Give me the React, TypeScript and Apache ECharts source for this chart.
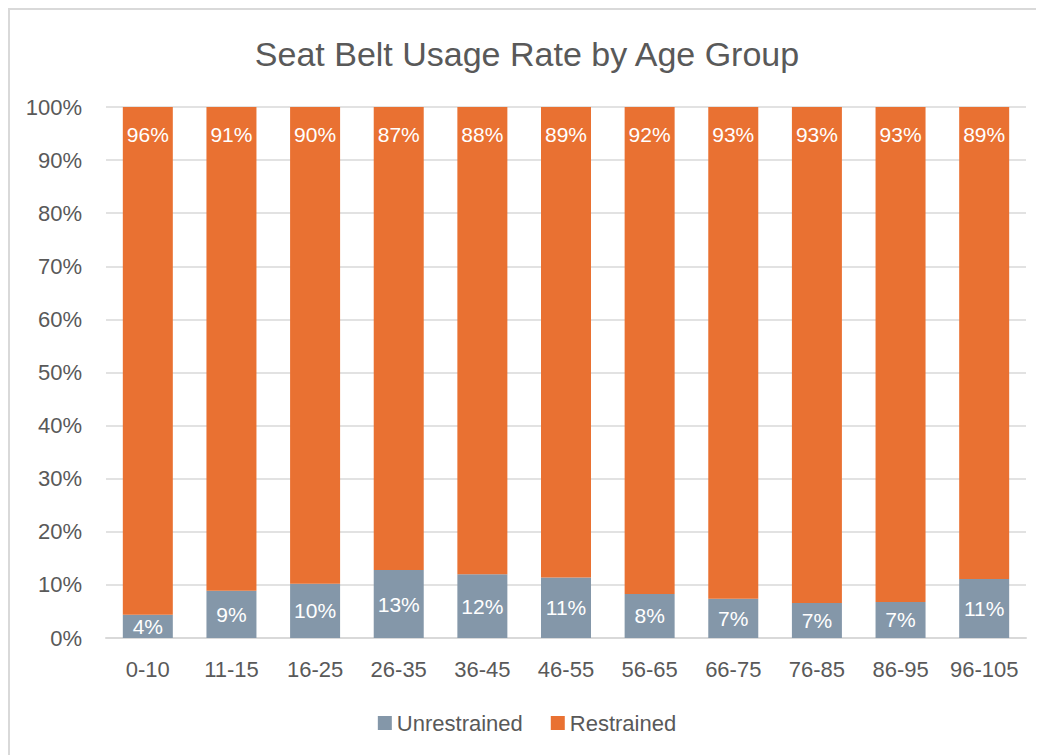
import React, { useEffect, useRef } from "react";
import * as echarts from "echarts";

const categories = ["0-10", "11-15", "16-25", "26-35", "36-45", "46-55", "56-65", "66-75", "76-85", "86-95", "96-105"];
const unrestrained = [4.4, 8.9, 10.2, 12.8, 12.0, 11.4, 8.3, 7.4, 6.6, 6.8, 11.1];
const restrained = [95.6, 91.1, 89.8, 87.2, 88.0, 88.6, 91.7, 92.6, 93.4, 93.2, 88.9];
const yTicks = [0, 10, 20, 30, 40, 50, 60, 70, 80, 90, 100];

const FONT = "'Liberation Sans', Arial, sans-serif";
const TXT = "#595959";

export default function App() {
  const ref = useRef<HTMLDivElement>(null);
  useEffect(() => {
    if (!ref.current) return;
    const chart = echarts.init(ref.current, null, { renderer: "svg" });
    chart.setOption({
      animation: false,
      textStyle: { fontFamily: FONT },
      title: {
        text: "Seat Belt Usage Rate by Age Group",
        left: "center",
        top: 22,
        textStyle: { fontFamily: FONT, fontSize: 34, fontWeight: "normal", color: TXT },
      },
      legend: {
        top: 697,
        left: "center",
        itemWidth: 14,
        itemHeight: 14,
        itemGap: 28,
        icon: "rect",
        textStyle: { fontFamily: FONT, fontSize: 22, color: TXT },
        data: ["Unrestrained", "Restrained"],
      },
      grid: { left: 96, right: 18, top: 97, bottom: 117, containLabel: false },
      xAxis: {
        type: "category",
        data: categories,
        axisLine: { lineStyle: { color: "#d9d9d9", width: 2 } },
        axisTick: { show: false },
        axisLabel: { fontFamily: FONT, fontSize: 22, color: TXT, margin: 20, interval: 0, hideOverlap: false },
      },
      yAxis: {
        type: "value",
        min: yTicks[0],
        max: yTicks[yTicks.length - 1],
        interval: 10,
        axisLine: { show: false },
        axisTick: { show: false },
        splitLine: { lineStyle: { color: "#d9d9d9", width: 1.5 } },
        axisLabel: { fontFamily: FONT, fontSize: 22, color: TXT, margin: 24, formatter: (v: number) => v + "%" },
      },
      series: [
        {
          name: "Unrestrained",
          type: "bar",
          stack: "total",
          barWidth: 50,
          data: unrestrained,
          itemStyle: { color: "#8497A9" },
          label: {
            show: true,
            position: "inside",
            color: "#ffffff",
            fontFamily: FONT,
            fontSize: 21,
            formatter: (p: any) => Math.round(p.value) + "%",
          },
        },
        {
          name: "Restrained",
          type: "bar",
          stack: "total",
          barWidth: 50,
          data: restrained,
          itemStyle: { color: "#E97132" },
          label: {
            show: true,
            position: "insideTop",
            distance: 17,
            color: "#ffffff",
            fontFamily: FONT,
            fontSize: 21,
            formatter: (p: any) => Math.round(p.value) + "%",
          },
        },
      ],
    });
    return () => chart.dispose();
  }, []);
  return (
    <div
      style={{
        width: 1036,
        height: 747,
        boxSizing: "border-box",
        borderLeft: "2px solid #d9d9d9",
        borderTop: "2px solid #d9d9d9",
        background: "#fff",
      }}
    >
      <div ref={ref} style={{ width: 1034, height: 745 }} />
    </div>
  );
}
